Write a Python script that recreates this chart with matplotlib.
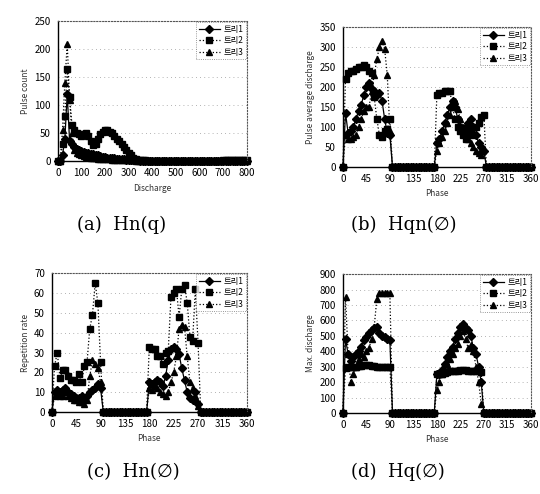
import matplotlib
matplotlib.use("Agg")
import matplotlib.pyplot as plt

plt.rcParams['font.family'] = ['Noto Sans CJK KR', 'DejaVu Sans']

labels = ["트리1", "트리2", "트리3"]

# (a) Hn(q)
discharge = list(range(0, 810, 10))
a_s1 = [0, 0, 10, 40, 120, 35, 30, 26, 22, 20, 18, 16, 15, 14, 13, 12, 11, 10, 9, 8,
        7, 6, 6, 5, 5, 4, 4, 3, 3, 2, 2, 1, 1, 1, 1, 0, 0, 0, 0, 0,
        0, 0, 0, 0, 0, 0, 0, 0, 0, 0, 0, 0, 0, 0, 0, 0, 0, 0, 0, 0,
        0, 0, 0, 0, 0, 0, 0, 0, 0, 0, 0, 0, 0, 0, 0, 0, 0, 0, 0, 0, 0]
a_s2 = [0, 0, 30, 80, 165, 115, 65, 55, 50, 48, 45, 48, 50, 45, 35, 28, 30, 40, 48, 52,
        55, 55, 52, 50, 45, 40, 35, 30, 25, 20, 15, 10, 6, 4, 2, 1, 1, 1, 0, 0,
        0, 0, 0, 0, 0, 0, 0, 0, 0, 0, 0, 0, 0, 0, 0, 0, 0, 0, 0, 0,
        0, 0, 0, 0, 0, 0, 0, 0, 0, 0, 1, 1, 1, 1, 1, 1, 1, 1, 1, 1, 1]
a_s3 = [0, 0, 55, 140, 210, 110, 50, 20, 15, 12, 10, 9, 8, 7, 6, 5, 5, 4, 4, 4,
        3, 3, 3, 2, 2, 2, 2, 2, 1, 1, 1, 1, 1, 0, 0, 0, 0, 0, 0, 0,
        0, 0, 0, 0, 0, 0, 0, 0, 0, 0, 0, 0, 0, 0, 0, 0, 0, 0, 0, 0,
        0, 0, 0, 0, 0, 0, 0, 0, 0, 0, 0, 0, 0, 0, 0, 0, 0, 0, 0, 0, 0]

# phase axis for (b), (c), (d)
phase = list(range(0, 365, 5))

# (b) Hqn(phi)  -- 73 values each
b_s1 = [0, 135, 85, 90, 100, 120, 140, 155, 180, 200, 210, 195, 190, 180, 185, 165, 120, 85, 80,
        0, 0, 0, 0, 0, 0, 0, 0, 0, 0, 0, 0, 0, 0, 0, 0, 0,
        60, 70, 90, 110, 130, 150, 165, 150, 120, 100, 90, 100, 110, 120, 100, 80, 60, 50, 40,
        0, 0, 0, 0, 0, 0, 0, 0, 0, 0, 0, 0, 0, 0, 0, 0, 0, 0]
b_s2 = [0, 220, 235, 240, 240, 245, 250, 250, 255, 250, 240, 235, 175, 120, 80, 75, 90, 95, 120,
        0, 0, 0, 0, 0, 0, 0, 0, 0, 0, 0, 0, 0, 0, 0, 0, 0,
        180, 185, 185, 190, 190, 190, 150, 120, 100, 90, 80, 70, 80, 90, 80, 100, 110, 125, 130,
        0, 0, 0, 0, 0, 0, 0, 0, 0, 0, 0, 0, 0, 0, 0, 0, 0, 0]
b_s3 = [0, 80, 70, 70, 75, 80, 100, 120, 140, 150, 150, 190, 230, 270, 300, 315, 295, 230, 90,
        0, 0, 0, 0, 0, 0, 0, 0, 0, 0, 0, 0, 0, 0, 0, 0, 0,
        40, 60, 75, 90, 110, 130, 150, 165, 145, 120, 100, 80, 70, 60, 50, 40, 35, 30, 45,
        0, 0, 0, 0, 0, 0, 0, 0, 0, 0, 0, 0, 0, 0, 0, 0, 0, 0]

# (c) Hn(phi)
c_s1 = [0, 10, 11, 10, 11, 12, 10, 9, 8, 7, 7, 8, 7, 8, 10, 11, 12, 14, 12,
        0, 0, 0, 0, 0, 0, 0, 0, 0, 0, 0, 0, 0, 0, 0, 0, 0,
        15, 14, 15, 16, 15, 13, 18, 26, 32, 33, 32, 29, 22, 16, 10, 7, 6, 10, 4,
        0, 0, 0, 0, 0, 0, 0, 0, 0, 0, 0, 0, 0, 0, 0, 0, 0, 0]
c_s2 = [0, 23, 30, 17, 21, 21, 18, 16, 16, 15, 19, 15, 23, 25, 42, 49, 65, 55, 25,
        0, 0, 0, 0, 0, 0, 0, 0, 0, 0, 0, 0, 0, 0, 0, 0, 0,
        33, 32, 32, 28, 28, 24, 30, 31, 58, 60, 62, 48, 62, 64, 55, 38, 36, 62, 35,
        0, 0, 0, 0, 0, 0, 0, 0, 0, 0, 0, 0, 0, 0, 0, 0, 0, 0]
c_s3 = [0, 8, 9, 8, 8, 10, 8, 7, 6, 6, 5, 5, 4, 6, 18, 26, 24, 22, 15,
        0, 0, 0, 0, 0, 0, 0, 0, 0, 0, 0, 0, 0, 0, 0, 0, 0,
        12, 11, 13, 12, 10, 9, 8, 10, 15, 20, 28, 42, 44, 43, 28, 15, 12, 8, 3,
        0, 0, 0, 0, 0, 0, 0, 0, 0, 0, 0, 0, 0, 0, 0, 0, 0, 0]

# (d) Hq(phi)
d_s1 = [0, 480, 380, 340, 360, 380, 400, 430, 470, 490, 520, 540, 550, 560, 520, 500, 490, 480, 470,
        0, 0, 0, 0, 0, 0, 0, 0, 0, 0, 0, 0, 0, 0, 0, 0, 0,
        250, 250, 280, 320, 360, 400, 430, 480, 520, 560, 580, 550, 540, 500, 420, 380, 300, 200, 0,
        0, 0, 0, 0, 0, 0, 0, 0, 0, 0, 0, 0, 0, 0, 0, 0, 0, 0]
d_s2 = [0, 290, 295, 295, 300, 300, 305, 305, 310, 310, 310, 305, 305, 300, 300, 300, 300, 300, 295,
        0, 0, 0, 0, 0, 0, 0, 0, 0, 0, 0, 0, 0, 0, 0, 0, 0,
        250, 250, 255, 260, 265, 270, 270, 275, 275, 280, 280, 280, 275, 275, 275, 270, 270, 265, 0,
        0, 0, 0, 0, 0, 0, 0, 0, 0, 0, 0, 0, 0, 0, 0, 0, 0, 0]
d_s3 = [0, 750, 380, 200, 250, 300, 350, 380, 360, 400, 420, 480, 560, 740, 780, 780, 780, 780, 780,
        0, 0, 0, 0, 0, 0, 0, 0, 0, 0, 0, 0, 0, 0, 0, 0, 0,
        150, 200, 250, 280, 320, 350, 380, 420, 450, 500, 530, 480, 420, 440, 400, 300, 200, 60, 0,
        0, 0, 0, 0, 0, 0, 0, 0, 0, 0, 0, 0, 0, 0, 0, 0, 0, 0]

captions = ["(a)  Hn(q)", "(b)  Hqn(∅)", "(c)  Hn(∅)", "(d)  Hq(∅)"]

fig = plt.figure(figsize=(5.4, 4.94), dpi=100)

styles = [dict(marker='D', linestyle='-', ms=3.6),
          dict(marker='s', linestyle=':', ms=4.2),
          dict(marker='^', linestyle=':', ms=4.4)]


def panel(rect, x, series, xlim, xticks, ylim, yticks, xlabel, ylabel):
    ax = fig.add_axes(rect)
    for s, st, lab in zip(series, styles, labels):
        ax.plot(x, s, color='black', lw=0.9, mfc='black', mec='black',
                label=lab, clip_on=False, **st)
    ax.set_xlim(*xlim)
    ax.set_ylim(*ylim)
    ax.set_xticks(xticks)
    ax.set_yticks(yticks)
    ax.tick_params(labelsize=7, length=0, pad=5)
    for t in yticks[1:]:
        ax.axhline(t, color='#999999', lw=0.6, ls=(0, (1, 4)), zorder=0)
    for sp in ['top', 'right']:
        ax.spines[sp].set_linestyle(':')
        ax.spines[sp].set_color('#555555')
    ax.spines['left'].set_linewidth(1.0)
    ax.spines['bottom'].set_linewidth(1.0)
    ax.set_xlabel(xlabel, fontsize=6, labelpad=4, color='#333333')
    ax.set_ylabel(ylabel, fontsize=6, labelpad=3, color='#333333')
    leg = ax.legend(loc='upper right', fontsize=6, frameon=True, handlelength=2.6,
                    borderpad=0.3, labelspacing=0.3, handletextpad=0.4,
                    borderaxespad=0.1, fancybox=False)
    leg.get_frame().set_edgecolor('#555555')
    leg.get_frame().set_linestyle(':')
    leg.get_frame().set_linewidth(0.6)
    return ax


panel([0.107, 0.674, 0.350, 0.283], discharge, [a_s1, a_s2, a_s3], (0, 800),
      list(range(0, 900, 100)), (0, 250), list(range(0, 300, 50)), "Discharge", "Pulse count")
panel([0.635, 0.662, 0.348, 0.283], phase, [b_s1, b_s2, b_s3], (0, 360),
      list(range(0, 405, 45)), (0, 350), list(range(0, 400, 50)), "Phase", "Pulse average discharge")
panel([0.096, 0.166, 0.361, 0.281], phase, [c_s1, c_s2, c_s3], (0, 360),
      list(range(0, 405, 45)), (0, 70), list(range(0, 80, 10)), "Phase", "Repetition rate")
panel([0.635, 0.164, 0.348, 0.281], phase, [d_s1, d_s2, d_s3], (0, 360),
      list(range(0, 405, 45)), (0, 900), list(range(0, 1000, 100)), "Phase", "Max. discharge")

cap_pos = [(122 / 540, 1 - 225 / 494), (404 / 540, 1 - 225 / 494),
           (133 / 540, 1 - 472 / 494), (398 / 540, 1 - 472 / 494)]
for (cx, cy), txt in zip(cap_pos, captions):
    fig.text(cx, cy, txt, ha='center', va='center', fontsize=13,
             family=['DejaVu Serif', 'DejaVu Sans'])

fig.savefig("out.png", dpi=100)
